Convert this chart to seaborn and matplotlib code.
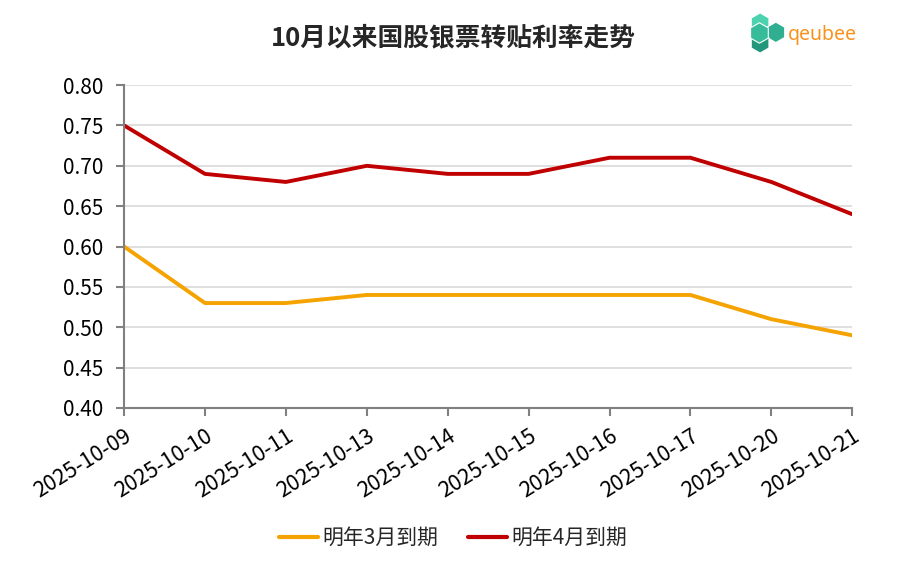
import numpy as np
import pandas as pd
import matplotlib
matplotlib.use("Agg")
import matplotlib.pyplot as plt
import matplotlib.patches as mpatches
import seaborn as sns

sns.set_theme(style="white")
plt.rcParams['font.family'] = ['Noto Sans CJK SC', 'DejaVu Sans']

dates = ["2025-10-09", "2025-10-10", "2025-10-11", "2025-10-13", "2025-10-14",
         "2025-10-15", "2025-10-16", "2025-10-17", "2025-10-20", "2025-10-21"]
mar_rate = [0.60, 0.53, 0.53, 0.54, 0.54, 0.54, 0.54, 0.54, 0.51, 0.49]
apr_rate = [0.75, 0.69, 0.68, 0.70, 0.69, 0.69, 0.71, 0.71, 0.68, 0.64]
series_names = ["明年3月到期", "明年4月到期"]

df = pd.DataFrame({"date": dates * 2,
                   "rate": mar_rate + apr_rate,
                   "series": [series_names[0]] * len(dates) + [series_names[1]] * len(dates)})
df["pos"] = list(range(len(dates))) * 2

fig = plt.figure(figsize=(8.99, 5.71), dpi=100)
ax = fig.add_axes([0.138, 0.2855, 0.81, 0.5655])

sns.lineplot(data=df, x="pos", y="rate", hue="series",
             palette={series_names[0]: "#F5A300", series_names[1]: "#C00000"},
             linewidth=2.8, ax=ax, legend=False)

yt = np.arange(0.40, 0.801, 0.05)
ax.set_xlim(0, len(dates) - 1)
ax.set_ylim(0.40, 0.80)
ax.set_yticks(yt)
ax.set_yticklabels([f"{v:.2f}" for v in yt], fontsize=15)
ax.set_xticks(range(len(dates)))
ax.set_xticklabels(dates, rotation=32, ha="right", rotation_mode="anchor", fontsize=15.5)
ax.set_xlabel("")
ax.set_ylabel("")

ax.yaxis.grid(True, color="#D9D9D9", linewidth=1.2)
ax.set_axisbelow(True)
for s in ["top", "right"]:
    ax.spines[s].set_visible(False)
for s in ["left", "bottom"]:
    ax.spines[s].set_color("#808080")
    ax.spines[s].set_linewidth(1.5)
ax.tick_params(axis="both", which="major", direction="out", length=6, width=1.5,
               color="#808080", labelcolor="black", bottom=True, left=True)
ax.tick_params(axis="y", pad=9)
ax.tick_params(axis="x", pad=6)

fig.text(0.504, 0.933, "10月以来国股银票转贴利率走势", ha="center", va="center",
         fontsize=18.5, fontweight="bold")

handles = [plt.Line2D([], [], color="#F5A300", lw=3),
           plt.Line2D([], [], color="#C00000", lw=3)]
fig.legend(handles, series_names, loc="center", bbox_to_anchor=(0.504, 0.058), ncol=2,
           frameon=False, fontsize=15, handlelength=1.9, handletextpad=0.2, columnspacing=1.4)

# logo
lax = fig.add_axes([745 / 899, 1 - 54 / 571, 42 / 899, 42 / 571])
lax.set_xlim(-1.6, 1.6)
lax.set_ylim(-1.6, 1.6)
lax.set_aspect("equal")
lax.axis("off")
for (cx, cy), c in zip([(-0.45, 0.75), (0.75, 0.05), (-0.45, -0.75), (-0.5, 0.0)],
                       ["#4DD2B0", "#2FAF8F", "#23977A", "#36BC9A"]):
    lax.add_patch(mpatches.RegularPolygon((cx, cy), numVertices=6, radius=0.78,
                                          orientation=0, facecolor=c, edgecolor="white", lw=0.8))
fig.text(788 / 899, 1 - 35 / 571, "qeubee", ha="left", va="center", fontsize=14,
         color="#F7931E", family="Noto Sans")

fig.savefig("out.png", dpi=100)
